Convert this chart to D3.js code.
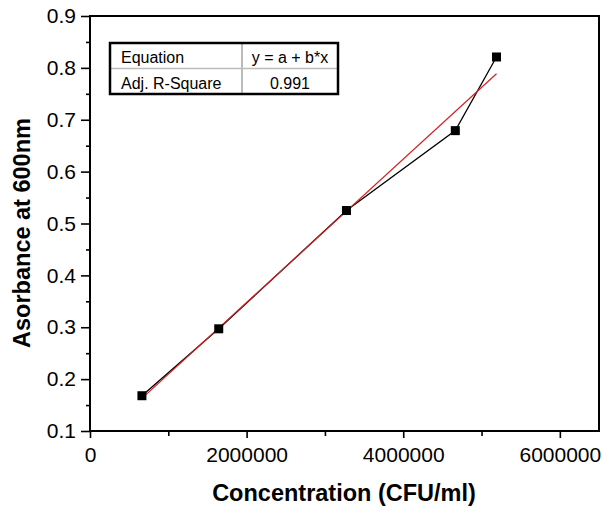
<!DOCTYPE html>
<html>
<head>
<meta charset="utf-8">
<script src="https://cdn.jsdelivr.net/npm/d3@7/dist/d3.min.js"></script>
<style>
  html, body { margin: 0; padding: 0; background: #fff; }
  svg { display: block; font-family: Arial, "Liberation Sans", sans-serif; }
</style>
</head>
<body>
<svg id="chart" width="605" height="510"></svg>
<script>
// Bacterial concentration vs. optical density
const concentration = [663000, 1644000, 3275000, 4665000, 5191000];
const absorbance = [0.168, 0.297, 0.525, 0.679, 0.821];
const xTicks = [0, 2000000, 4000000, 6000000];
const yTicks = [0.1, 0.2, 0.3, 0.4, 0.5, 0.6, 0.7, 0.8, 0.9];
const fitTable = [["Equation", "y = a + b*x"], ["Adj. R-Square", "0.991"]];

const svg = d3.select("#chart");
const plotL = 90, plotR = 599, plotT = 16, plotB = 431;

const x = d3.scaleLinear().domain([0, 6500000]).range([plotL, plotR]);
const y = d3.scaleLinear().domain([0.1, 0.9]).range([plotB, plotT]);

// Linear least-squares fit
const mx = d3.mean(concentration), my = d3.mean(absorbance);
const sxy = d3.sum(concentration, (v, i) => (v - mx) * (absorbance[i] - my));
const sxx = d3.sum(concentration, v => (v - mx) * (v - mx));
const slope = sxy / sxx, intercept = my - slope * mx;

// Axes: major ticks with labels, minor ticks between
const xAxis = d3.axisBottom(x).tickValues(xTicks).tickFormat(d3.format("d")).tickSize(7).tickPadding(9);
const xMinor = d3.axisBottom(x).tickValues([1000000, 3000000, 5000000]).tickFormat("").tickSize(5);
const yAxis = d3.axisLeft(y).tickValues(yTicks).tickFormat(d3.format(".1f")).tickSize(9).tickPadding(5);
const yMinor = d3.axisLeft(y).tickValues(d3.range(0.15, 0.9, 0.1)).tickFormat("").tickSize(4);

function styleAxis(g) {
  g.select(".domain").remove();
  g.selectAll("line").attr("stroke", "#000").attr("stroke-width", 1.6);
  g.selectAll("text").attr("fill", "#000").style("font-size", "21px");
}

svg.append("g").attr("transform", `translate(0,${plotB})`).call(xAxis).call(styleAxis);
svg.append("g").attr("transform", `translate(0,${plotB})`).call(xMinor).call(styleAxis);
svg.append("g").attr("transform", `translate(${plotL},0)`).call(yAxis).call(styleAxis);
svg.append("g").attr("transform", `translate(${plotL},0)`).call(yMinor).call(styleAxis);

// Frame
svg.append("rect")
  .attr("x", plotL).attr("y", plotT)
  .attr("width", plotR - plotL).attr("height", plotB - plotT)
  .attr("fill", "none").attr("stroke", "#000").attr("stroke-width", 2);

// Data line
const pts = concentration.map((c, i) => [c, absorbance[i]]);
svg.append("path")
  .datum(pts)
  .attr("fill", "none").attr("stroke", "#000").attr("stroke-width", 1.3)
  .attr("d", d3.line().x(d => x(d[0])).y(d => y(d[1])));

// Fitted line across the data range
const x0 = d3.min(concentration), x1 = d3.max(concentration);
svg.append("line")
  .attr("x1", x(x0)).attr("y1", y(intercept + slope * x0))
  .attr("x2", x(x1)).attr("y2", y(intercept + slope * x1))
  .attr("stroke", "#d42020").attr("stroke-width", 1.2);

// Markers
const ms = 9;
svg.append("g").selectAll("rect")
  .data(pts).join("rect")
  .attr("x", d => x(d[0]) - ms / 2).attr("y", d => y(d[1]) - ms / 2)
  .attr("width", ms).attr("height", ms).attr("fill", "#000");

// Fit summary table
const tx = 110, tw1 = 132, tw2 = 96, rh = 25.5, ty = 43;
const tbl = svg.append("g");
tbl.append("line").attr("x1", tx).attr("x2", tx + tw1 + tw2)
  .attr("y1", ty + rh).attr("y2", ty + rh).attr("stroke", "#bbb").attr("stroke-width", 1.5);
tbl.append("line").attr("x1", tx + tw1).attr("x2", tx + tw1)
  .attr("y1", ty).attr("y2", ty + 2 * rh).attr("stroke", "#bbb").attr("stroke-width", 2);
tbl.append("rect").attr("x", tx).attr("y", ty).attr("width", tw1 + tw2).attr("height", 2 * rh)
  .attr("fill", "none").attr("stroke", "#000").attr("stroke-width", 2.5);
fitTable.forEach((row, i) => {
  tbl.append("text").attr("x", tx + 11).attr("y", ty + rh * i + 20)
    .style("font-size", "16px").text(row[0]);
  tbl.append("text").attr("x", tx + tw1 + tw2 / 2).attr("y", ty + rh * i + 20)
    .attr("text-anchor", "middle").style("font-size", "16px").text(row[1]);
});

// Axis titles
svg.append("text").attr("x", 344).attr("y", 501)
  .attr("text-anchor", "middle").style("font-size", "23.5px").style("font-weight", "bold")
  .text("Concentration (CFU/ml)");
svg.append("text").attr("transform", "translate(30,233) rotate(-90)")
  .attr("text-anchor", "middle").style("font-size", "23.5px").style("font-weight", "bold")
  .text("Asorbance at 600nm");
</script>
</body>
</html>
